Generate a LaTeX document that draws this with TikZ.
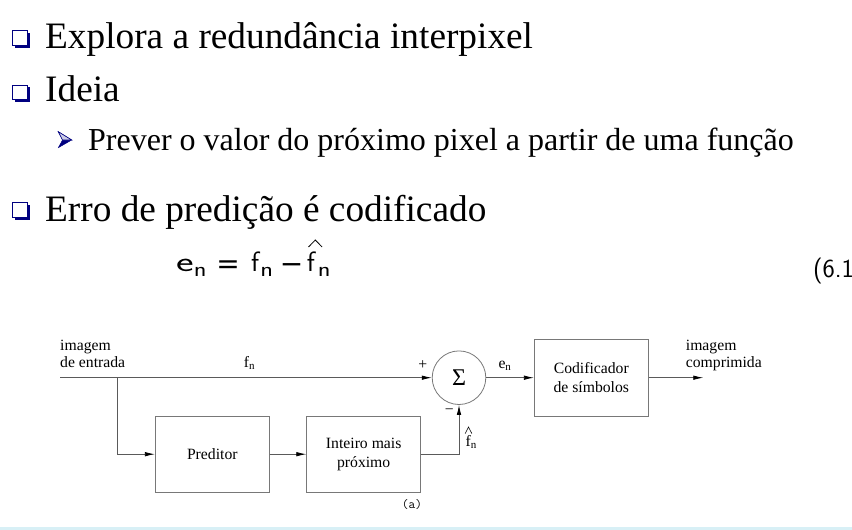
\documentclass[tikz,border=0pt]{standalone}
\usepackage{graphicx}
\usepackage{fontspec}
\setmainfont{Liberation Serif}
\newfontfamily\symfont{DejaVu Sans}
\usetikzlibrary{arrows.meta}
\definecolor{navy}{RGB}{0,0,128}
\definecolor{lnclr}{RGB}{90,90,90}
\definecolor{bxclr}{RGB}{120,120,120}
\definecolor{band}{RGB}{216,240,246}
\newcommand\eqsub[1]{\raisebox{-4.3pt}{\fontsize{21}{21}\selectfont\scalebox{1.25}[1]{#1}}}
\newcommand\eqsym[1]{\raisebox{-2pt}{\symfont\fontsize{28}{28}\selectfont #1}}
\tikzset{
 big/.style={anchor=base west, inner sep=0pt, font=\fontsize{37.3}{45}\selectfont},
 mid/.style={anchor=base west, inner sep=0pt, font=\fontsize{32}{38}\selectfont},
 lbl/.style={inner sep=0pt, font=\fontsize{15.7}{17}\selectfont},
 blk/.style={draw=bxclr, line width=0.8pt, minimum width=114pt, minimum height=76.5pt, inner sep=0pt, align=center, font=\fontsize{15.7}{19}\selectfont},
 sumc/.style={circle, draw=bxclr, line width=0.8pt, minimum size=53.6pt, inner sep=0pt, font=\fontsize{24}{28}\selectfont},
 conn/.style={draw=lnclr, line width=0.8pt},
 arr/.style={conn, -{Latex[length=10pt,width=4.5pt,color=black]}},
 hatmark/.style={draw=black, line width=0.8pt, line join=miter},
 sqb/.pic={\fill[navy] (2.7,2.7) rectangle (17.7,17.7);
           \filldraw[fill=white,draw=navy,line width=1pt] (0.5,0.5) rectangle (15,15);},
}
\begin{document}
\begin{tikzpicture}[x=1pt,y=-1pt]
\path[use as bounding box] (0,0) rectangle (852,530);
\fill[band] (0,526.7) rectangle (852,530);
% bullets
\pic at (12.3,30) {sqb};
\pic at (12.3,84.5) {sqb};
\pic at (12.3,202) {sqb};
\filldraw[navy] (58.3,131.7) -- (71.7,140) -- (58.3,147.7) -- (62.5,140) -- cycle;
\filldraw[fill=navy!20, draw=navy, line width=0.6pt] (58.3,131.7) -- (71.7,140) -- (62.5,140) -- cycle;
% text
\node[big] (t1) at (45,48) {Explora a redundância interpixel};
\node[big] (t2) at (45,101) {Ideia};
\node[mid] (t3) at (88,150) {Prever o valor do próximo pixel a partir de uma função};
\node[big] (t4) at (45,221.7) {Erro de predição é codificado};
\node[anchor=base west, inner sep=0pt, font=\sffamily\fontsize{28}{34}\selectfont] (eq) at (176,271.7)
  {\scalebox{1.5}[1]{e}\eqsub{n}\hspace{9.8pt}\eqsym{=}\hspace{11.5pt}f\hspace{1pt}\eqsub{n}\hspace{6.8pt}\eqsym{−}\hspace{3.7pt}f\hspace{3pt}\eqsub{n}};
\path[hatmark] (308.5,247) -- (315.3,240) -- (322.1,247);
\node[anchor=base west, inner sep=0pt, font=\sffamily\fontsize{26}{30}\selectfont] (eqn) at (813,277) {(6.1)};
% diagram
\node[sumc] (sum) at (459,377.7) {Σ};
\node[blk] (pred) at (212.3,454.2) {Preditor};
\node[blk] (intp) at (363.7,454.2) {Inteiro mais\\próximo};
\node[blk] (cod) at (591.3,377.7) {Codificador\\de símbolos};
\coordinate (in) at (60,377.7);
\coordinate (br) at (117.7,377.7);
\coordinate (out) at (703.3,377.7);
\draw[arr] (in) -- (sum.west);
\draw[arr] (br) |- (pred.west);
\draw[arr] (pred) -- (intp);
\draw[arr] (intp.east) -| (sum.south);
\draw[arr] (sum) -- (cod);
\draw[arr] (cod) -- (out);
% labels
\node[lbl, anchor=north west, align=left] (lin) at (60,340) {imagem\\de entrada};
\node[lbl, anchor=base] (lfn) at (249.5,367.7) {f\textsubscript{n}};
\node[lbl] (lp) at (422.7,365) {+};
\node[lbl] (lm) at (449.3,411.7) {−};
\node[lbl, anchor=base west] (lfh) at (465.5,446.7) {f\textsubscript{n}};
\path[hatmark, line width=0.6pt] (465.2,433.5) -- (468.5,427) -- (471.8,433.5);
\node[lbl, anchor=base west] (len) at (498.3,368.5) {e\textsubscript{n}};
\node[lbl, anchor=north west, align=left] (lout) at (685.7,340) {imagem\\comprimida};
\node[inner sep=0pt, font=\ttfamily\fontsize{13}{15}\selectfont] (cap) at (412,505) {(a)};
\end{tikzpicture}
\end{document}
